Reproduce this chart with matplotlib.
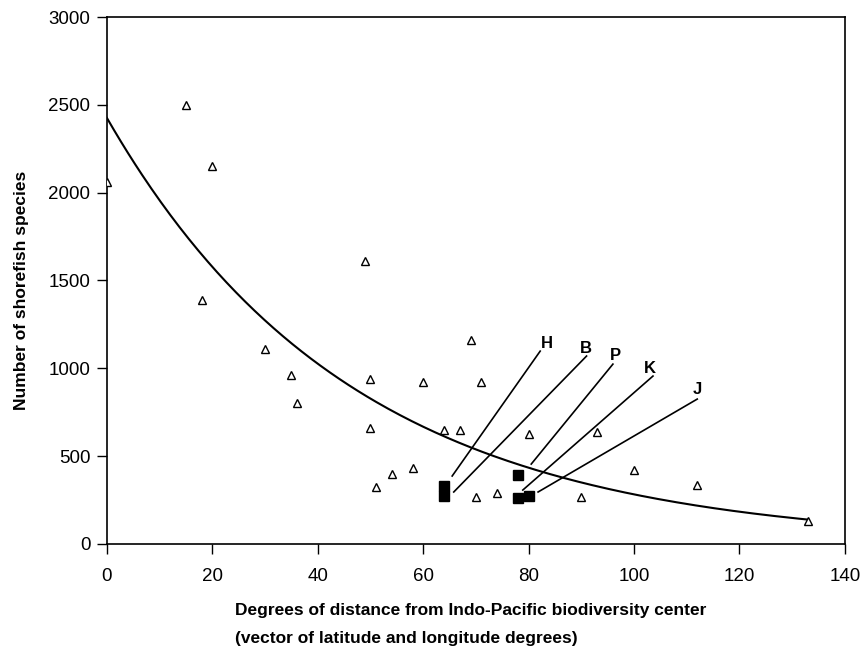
import numpy as np
import matplotlib.pyplot as plt

plt.rcParams['font.family'] = ['Liberation Sans', 'DejaVu Sans']

# open triangles: sites
dist = [0, 15, 20, 18, 30, 35, 36, 49, 50, 50, 51, 54, 58, 60, 64, 67, 69, 70,
        71, 74, 80, 90, 93, 100, 112, 133]
species = [2060, 2500, 2150, 1390, 1110, 960, 800, 1610, 940, 660, 325, 400, 430,
           920, 650, 650, 1160, 270, 920, 290, 625, 270, 635, 420, 335, 130]

# filled squares: labelled islands
isl_dist = [64, 64, 78, 78, 80]
isl_species = [330, 273, 395, 260, 275]

# leader lines (label end -> point end) and labels
labels = ['H', 'B', 'P', 'K', 'J']
line_start = [(82.2, 1098), (91.0, 1070), (96.0, 1024), (103.6, 956), (112.0, 825)]
line_end = [(65.5, 387), (65.8, 296), (80.5, 455), (78.9, 307), (81.8, 296)]
label_pos = [(83.5, 1140), (90.8, 1115), (96.5, 1075), (103.0, 1000), (112.0, 880)]

# exponential trend line y = a * exp(-b x)
curve_a = 2425
curve_b = 0.0215

fig = plt.figure(figsize=(8.64, 6.49), dpi=100)
ax = fig.add_axes([0.1238, 0.1618, 0.854, 0.8120])

xs = np.linspace(0, 133, 300)
ax.plot(xs, curve_a * np.exp(-curve_b * xs), color='black', lw=1.5, zorder=2)

for (x0, y0), (x1, y1) in zip(line_start, line_end):
    ax.plot([x0, x1], [y0, y1], color='black', lw=1.2, zorder=2)
for lab, (lx, ly) in zip(labels, label_pos):
    ax.text(lx, ly, lab, fontsize=12, fontweight='bold', ha='center', va='center')

ax.plot(dist, species, linestyle='none', marker='^', markersize=6,
        markerfacecolor='white', markeredgecolor='black', markeredgewidth=1.0, zorder=3)
ax.plot(isl_dist, isl_species, linestyle='none', marker='s', markersize=7,
        color='black', zorder=3)

ax.set_xlim(0, 140)
ax.set_ylim(0, 3000)
ax.set_xticks(range(0, 141, 20))
ax.set_yticks(range(0, 3001, 500))
ax.tick_params(direction='out', length=7, width=1, labelsize=13.5, pad=5)
ax.tick_params(axis='x', pad=10)
for s in ax.spines.values():
    s.set_linewidth(1.2)

fig.text(22 / 864, 1 - 290 / 649, 'Number of shorefish species', fontsize=12.5,
         fontweight='bold', rotation=90, ha='center', va='center')
fig.text(235 / 864, 1 - 610 / 649, 'Degrees of distance from Indo-Pacific biodiversity center',
         fontsize=12.5, fontweight='bold', ha='left', va='center')
fig.text(235 / 864, 1 - 639 / 649, '(vector of latitude and longitude degrees)',
         fontsize=12.5, fontweight='bold', ha='left', va='center')

fig.savefig('out.png', dpi=100)
